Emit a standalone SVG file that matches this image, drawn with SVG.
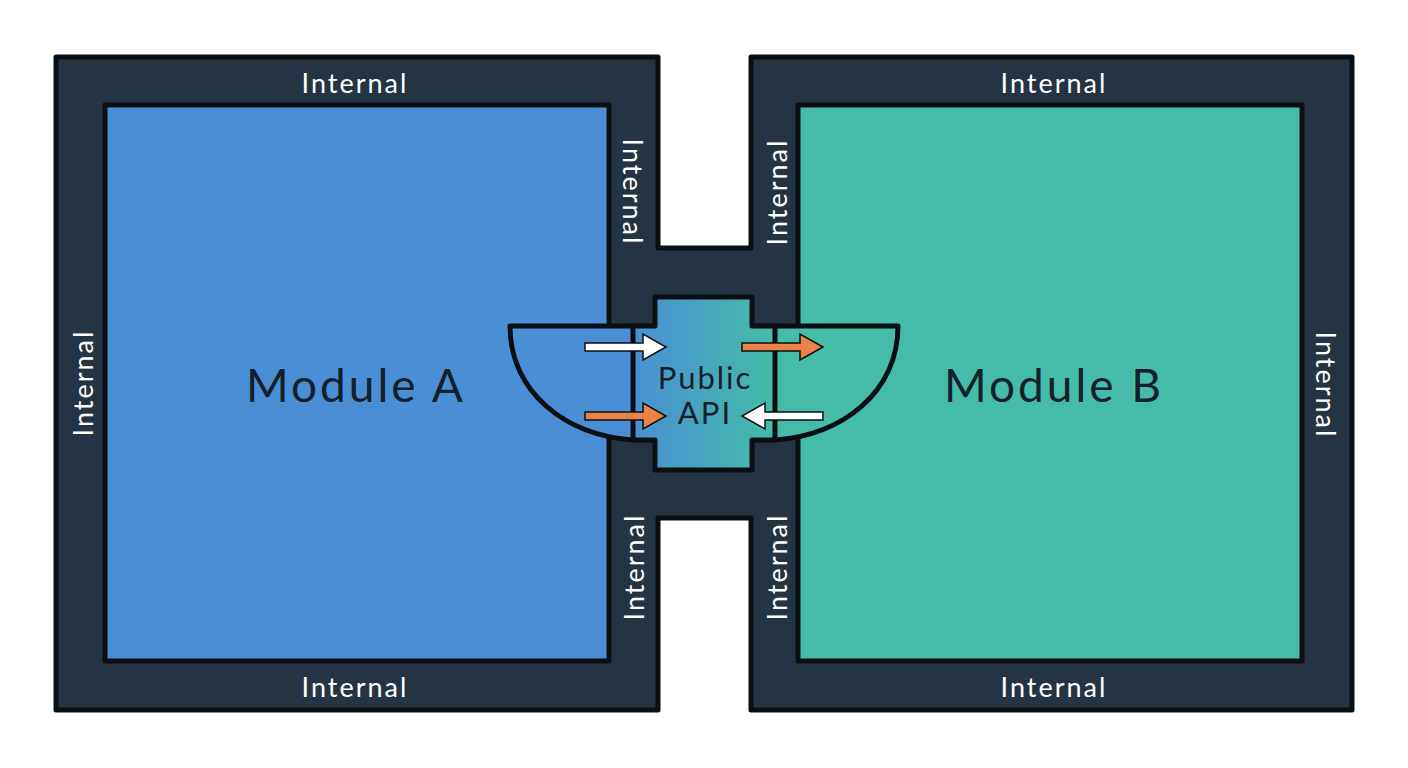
<svg xmlns="http://www.w3.org/2000/svg" width="1408" height="768" viewBox="0 0 1408 768">
<style>
.frame{fill:#243442;stroke:#0b0f12;stroke-width:5;stroke-linejoin:round}
.box{stroke:#0b0f12;stroke-width:5;stroke-linejoin:round}
.int{font-family:Lato,"Noto Sans",sans-serif;font-size:27px;fill:#ffffff;text-anchor:middle;dominant-baseline:central;letter-spacing:2px}
.mod{font-family:Lato,"Noto Sans",sans-serif;font-size:46px;fill:#14202a;text-anchor:middle;dominant-baseline:central;letter-spacing:3px}
.api{font-family:Lato,"Noto Sans",sans-serif;font-size:31px;fill:#14202a;text-anchor:middle;dominant-baseline:central;letter-spacing:2px}
.arw{stroke:#0b0f12;stroke-width:1.5;stroke-linejoin:miter}
</style>
<defs>
<linearGradient id="g" gradientUnits="userSpaceOnUse" x1="633" y1="0" x2="775" y2="0">
<stop offset="0" stop-color="#4a8fd5"/>
<stop offset="1" stop-color="#44bca8"/>
</linearGradient>
<path id="arrow" d="M0,-4 H58 V-13 L81,0 L58,13 V4 H0 Z"/>
</defs>
<rect width="1408" height="768" fill="#ffffff"/>
<g id="frame">
<path class="frame" d="M56,57 H658 V248 H751 V57 H1352 V710 H751 V518 H658 V710 H56 Z"/>
</g>
<g id="module-a">
<rect class="box" x="105" y="105" width="504" height="556" fill="#4a8fd5"/>
<text class="mod" x="356" y="384">Module A</text>
</g>
<g id="module-b">
<rect class="box" x="798" y="105" width="504" height="556" fill="#44bca8"/>
<text class="mod" x="1054" y="384">Module B</text>
</g>
<g id="labels">
<text class="int" x="355" y="82">Internal</text>
<text class="int" x="355" y="686">Internal</text>
<text class="int" x="1054" y="82">Internal</text>
<text class="int" x="1054" y="686">Internal</text>
<text class="int" transform="translate(82,383) rotate(-90)">Internal</text>
<text class="int" transform="translate(1326,385) rotate(90)">Internal</text>
<text class="int" transform="translate(633,192) rotate(90)">Internal</text>
<text class="int" transform="translate(633,567) rotate(-90)">Internal</text>
<text class="int" transform="translate(776,192) rotate(-90)">Internal</text>
<text class="int" transform="translate(776,567) rotate(-90)">Internal</text>
</g>
<g id="public-api">
<path class="box" fill="url(#g)" d="M510,326 H898 C898,392 842,436 775,440 H633 C566,436 510,392 510,326 Z"/>
<path class="box" fill="url(#g)" d="M655,297 H752 V326 H775 V440 H752 V470 H655 V440 H633 V326 H655 Z"/>
<text class="api" x="705" y="377">Public</text>
<text class="api" x="705" y="412">API</text>
</g>
<g id="connectors">
<use href="#arrow" class="arw" fill="#ffffff" transform="translate(585,347)"/>
<use href="#arrow" class="arw" fill="#ec8248" transform="translate(742,347)"/>
<use href="#arrow" class="arw" fill="#ec8248" transform="translate(585,416)"/>
<use href="#arrow" class="arw" fill="#ffffff" transform="translate(823,416) scale(-1,1)"/>
</g>
</svg>
